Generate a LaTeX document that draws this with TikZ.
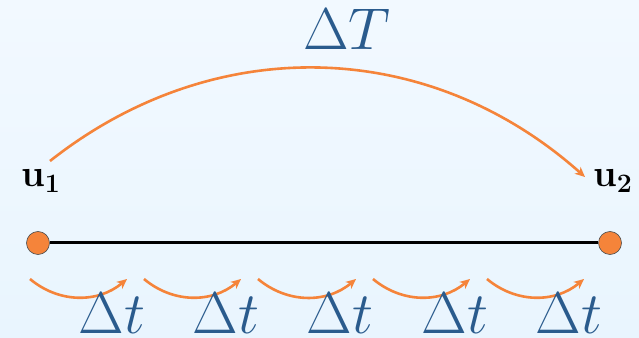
\RequirePackage{fix-cm}
\documentclass[tikz,border=0pt]{standalone}
\usepackage{amsmath}
\usetikzlibrary{arrows.meta}
\definecolor{orng}{HTML}{F5843A}
\definecolor{dblue}{HTML}{2A5B8D}
\definecolor{bgtop}{HTML}{F2F9FF}
\definecolor{bgbot}{HTML}{E9F5FE}
\tikzset{
  dot/.style={circle, fill=orng, draw=black!70, line width=0.6pt, minimum size=23pt, inner sep=0pt},
  arr/.style={orng, line width=2.6pt, -{Stealth[length=10pt,width=9pt,inset=3pt]}},
  bigtxt/.style={text=dblue, inner sep=0pt, anchor=base, font=\fontsize{59}{62}\selectfont},
  utxt/.style={text=black, inner sep=0pt, anchor=base west, font=\fontsize{38}{40}\selectfont},
}
\begin{document}
\begin{tikzpicture}[x=1pt,y=1pt]
\shade[top color=bgtop, bottom color=bgbot] (0,0) rectangle (639,337);
\useasboundingbox (0,0) rectangle (639,337);
% main segment
\node[dot] (p1) at (38,94) {};
\node[dot] (p2) at (610,94) {};
\draw[line width=3pt, black] (p1) -- (p2);
% labels
\node[utxt] (u1) at (21,150) {$\mathbf{u_1}$};
\node[utxt] (u2) at (593,150) {$\mathbf{u_2}$};
\node[bigtxt] (DT) at (347,287) {$\Delta T$};
% big arc
\coordinate (s0) at (50,176);
\coordinate (e0) at (585,160);
\draw[arr] (s0) to[bend left=40] (e0);
% small arcs
\foreach \i/\xs/\xe/\xl in {1/30/127/112, 2/144/241/226, 3/258/356/340, 4/373/470/455, 5/487/584/569}{
  \coordinate (sa\i) at (\xs,58);
  \coordinate (ea\i) at (\xe,58);
  \draw[arr] (sa\i) to[bend right=40] (ea\i);
  \node[bigtxt] (dt\i) at (\xl,4) {$\Delta t$};
}
\end{tikzpicture}
\end{document}
